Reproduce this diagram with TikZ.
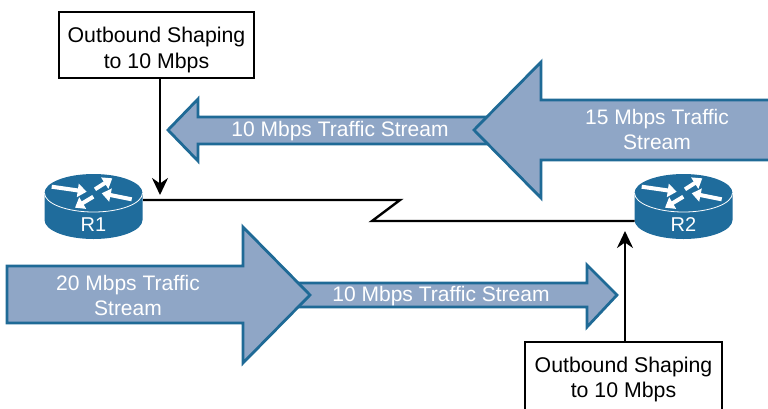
\documentclass[tikz,border=0pt]{standalone}
\usepackage{fontspec}
\setmainfont{Liberation Sans}
\usetikzlibrary{arrows.meta}
\definecolor{flowfill}{HTML}{8FA6C6}
\definecolor{flowline}{HTML}{1F6A96}
\definecolor{routerblue}{HTML}{1F6C9C}
\tikzset{
  flow/.style={draw=flowline,fill=flowfill,line width=2.8pt,line join=miter},
  flowtext/.style={text=white,font=\fontsize{21}{25}\selectfont,align=center,inner sep=0pt},
  notebox/.style={draw=black,fill=white,line width=2.6pt,inner sep=0pt},
  notetext/.style={font=\fontsize{21.3}{25.5}\selectfont,align=center,inner sep=0pt},
  shaper/.style={draw=black,line width=2.4pt,-{Stealth[length=17pt,width=16pt]}},
  wan/.style={draw=black,line width=2.4pt,line join=miter},
  router/.pic={
    \fill[routerblue] (-49,-13) -- (-49,14) arc[start angle=180,end angle=360,x radius=49,y radius=-19]
      -- (49,-13) arc[start angle=0,end angle=180,x radius=49,y radius=-19] -- cycle;
    \draw[white,line width=.8pt] (-49,-13) arc[start angle=180,end angle=360,x radius=49,y radius=-19];
    \foreach \xa/\ya/\xb/\yb in {-41.8/-19.3/-6.8/-14.3,1.5/-16.7/18.8/-27.7,38.2/-6.7/8.2/-12.7,-0.2/-9.3/-18.5/1.7}{
      \draw[white,line width=4pt,-{Triangle[length=9pt,width=13pt]}] (\xa,\ya) -- (\xb,\yb);
    }
    \node[text=white,font=\fontsize{20}{20}\selectfont,inner sep=0pt] (-label) at (0,19) {#1};
    \coordinate (-east) at (49.5,-6);
    \coordinate (-west) at (-49,15);
  },
  router/.default={}
}
\begin{document}
\begin{tikzpicture}[x=1pt,y=-1pt]
  \useasboundingbox (0,0) rectangle (768,408);
  % traffic arrows, the later one lies on top
  \draw[flow] (490,117) -- (198,117) -- (198,99) -- (168,130) -- (198,161) -- (198,144) -- (490,144);
  \draw[flow] (770,100) -- (541,100) -- (541,62) -- (474,130) -- (541,198) -- (541,160) -- (770,160);
  \draw[flow] (295,283) -- (587,283) -- (587,265) -- (617,295) -- (587,327) -- (587,307) -- (295,307);
  \draw[flow] (7,266) -- (243,266) -- (243,227) -- (310,295) -- (243,363) -- (243,323) -- (7,323) -- cycle;
  \node[flowtext] (slow1) at (340,131.5) {10 Mbps Traffic Stream};
  \node[flowtext] (fast2) at (657,129.5) {15 Mbps Traffic\\Stream};
  \node[flowtext] (slow2) at (441,296.5) {10 Mbps Traffic Stream};
  \node[flowtext] (fast1) at (128,295.5) {20 Mbps Traffic\\Stream};
  % routers
  \pic (r1) at (93.5,206) {router={R1}};
  \pic (r2) at (683.5,206) {router={R2}};
  % serial link
  \coordinate (bolt1) at (400,200);
  \coordinate (bolt2) at (372,221);
  \draw[wan] (r1-east) -- (bolt1) -- (bolt2) -- (r2-west);
  % shaping notes
  \node[notebox,minimum width=195pt,minimum height=66pt,
    label={[notetext,yshift=-5pt]center:Outbound Shaping\\to 10 Mbps}] (note1) at (156.5,45) {};
  \node[notebox,minimum width=197pt,minimum height=70pt,
    label={[notetext,yshift=-2.5pt]center:Outbound Shaping\\to 10 Mbps}] (note2) at (623.5,377) {};
  \coordinate (shape1) at (160,195);
  \coordinate (shape2) at (625,231);
  \draw[shaper] (note1.south -| shape1) -- (shape1);
  \draw[shaper] (note2.north -| shape2) -- (shape2);
\end{tikzpicture}
\end{document}
